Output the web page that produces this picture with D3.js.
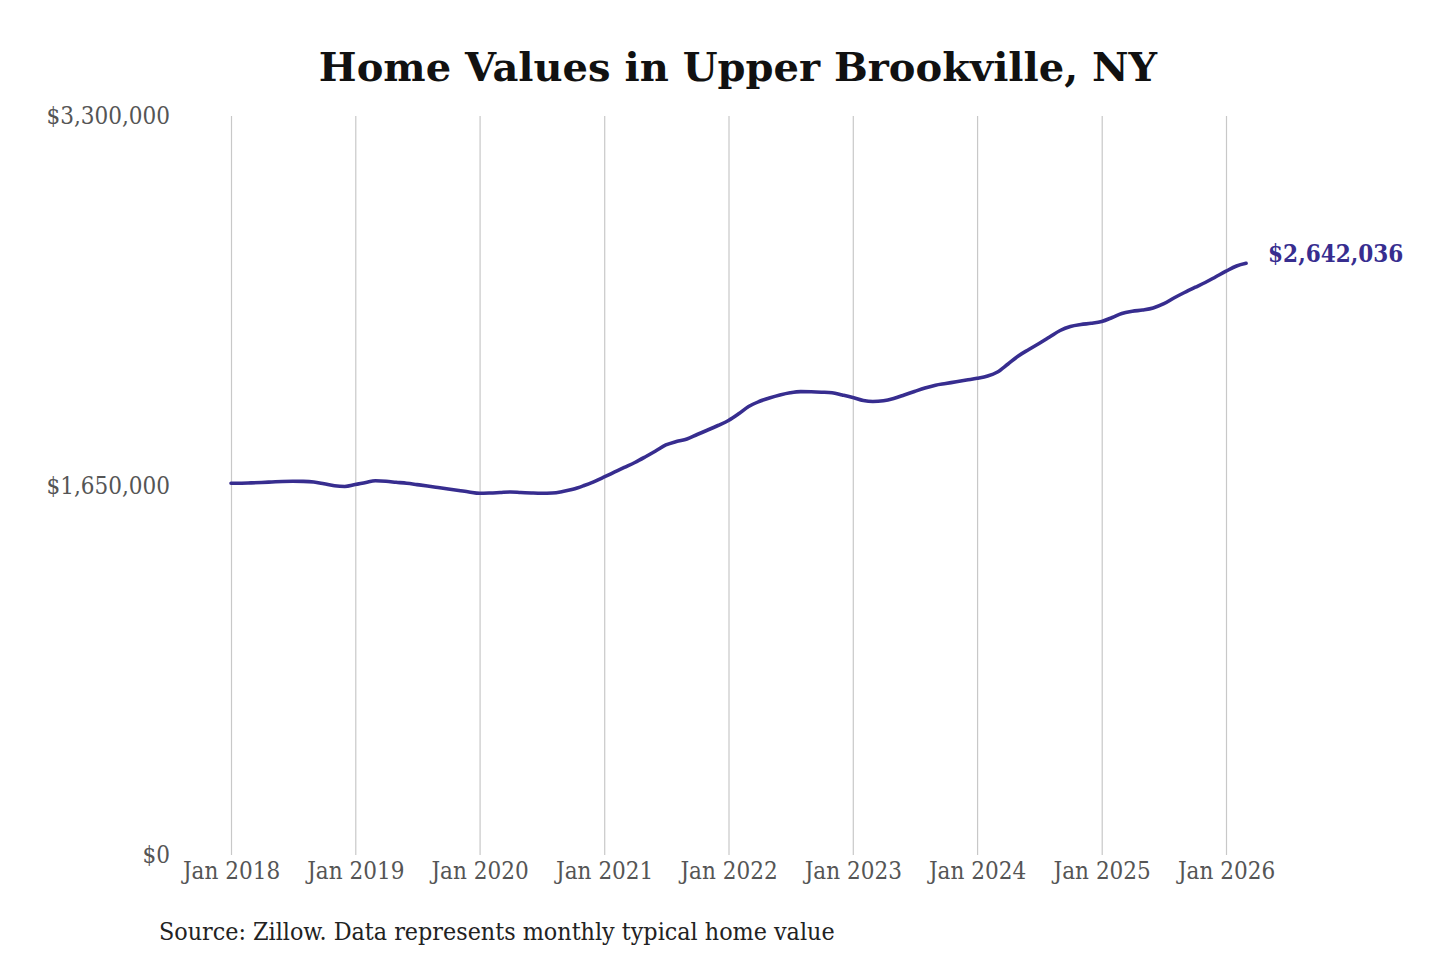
<!DOCTYPE html>
<html>
<head>
<meta charset="utf-8">
<script src="https://cdn.jsdelivr.net/npm/d3@7"></script>
<style>
  html, body { margin: 0; padding: 0; background: #ffffff; }
  svg { display: block; }
</style>
</head>
<body>
<svg id="chart" width="1440" height="960"></svg>
<script>
// ---- Data (monthly typical home value, Jan 2018 .. Mar 2026) ----
const startYear = 2018;
const startMonth = 0; // January
const values = [
  1659800, 1660300, 1661600, 1663400, 1665600, 1667900, 1668800, 1668300, 1665600, 1657600, 1648700, 1645600,
  1654000, 1663400, 1671000, 1668800, 1664300, 1659800, 1654000, 1647800, 1641100, 1634400, 1627700, 1621000,
  1615200, 1616500, 1618700, 1621000, 1618700, 1616500, 1615200, 1616500, 1623200, 1633000, 1648700, 1666500,
  1688000, 1710300, 1730400, 1752700, 1777300, 1804100, 1830900, 1846500, 1857600, 1877700, 1897800, 1917900,
  1940300, 1971500, 2002800, 2025100, 2040700, 2054100, 2064000, 2069300, 2068400, 2066600, 2064000, 2054100,
  2043000, 2029600, 2025100, 2028300, 2038500, 2054100, 2069800, 2085400, 2097900, 2105500, 2113500, 2121100,
  2128700, 2139000, 2156800, 2192600, 2228300, 2257300, 2284100, 2313100, 2342200, 2360000, 2368900, 2374300,
  2382400, 2400200, 2418100, 2427900, 2433700, 2442700, 2460500, 2487300, 2511900, 2534200, 2556500, 2581100,
  2607000, 2630200, 2642036
];
const yTicks = [0, 1650000, 3300000];
const xTickYears = [2018, 2019, 2020, 2021, 2022, 2023, 2024, 2025, 2026];
const title = "Home Values in Upper Brookville, NY";
const source = "Source: Zillow. Data represents monthly typical home value";

const data = values.map((v, i) => ({ date: new Date(startYear, startMonth + i, 1), value: v }));

// ---- Layout ----
const svg = d3.select("#chart");
const mLeft = 231, mRight = 1226, mTop = 116, mBottom = 855;
const lineColor = "#372d8f";
const font = "'DejaVu Serif', serif";

const x = d3.scaleTime()
  .domain([new Date(2018, 0, 1), new Date(2026, 0, 1)])
  .range([mLeft, mRight]);
const y = d3.scaleLinear()
  .domain([0, 3300000])
  .range([mBottom, mTop]);

// Title
svg.append("text")
  .attr("x", 738).attr("y", 81)
  .attr("text-anchor", "middle")
  .attr("font-family", font)
  .attr("font-weight", "bold")
  .attr("font-size", 40)
  .attr("fill", "#111")
  .text(title);

// Vertical gridlines (x axis)
const xAxis = d3.axisBottom(x)
  .tickValues(xTickYears.map(yr => new Date(yr, 0, 1)))
  .tickSize(-(mBottom - mTop))
  .tickPadding(7)
  .tickFormat(d3.timeFormat("Jan %Y"));
const gx = svg.append("g")
  .attr("transform", `translate(0,${mBottom})`)
  .call(xAxis);
gx.select(".domain").remove();
gx.selectAll(".tick line").attr("stroke", "#c8c8c8").attr("stroke-width", 1.2);
gx.selectAll(".tick text")
  .attr("font-family", font)
  .attr("font-stretch", "condensed")
  .attr("font-size", 24)
  .attr("fill", "#555");

// Y axis labels
const yAxis = d3.axisLeft(y)
  .tickValues(yTicks)
  .tickSize(0)
  .tickPadding(61)
  .tickFormat(d => "$" + d3.format(",")(d));
const gy = svg.append("g")
  .attr("transform", `translate(${mLeft},0)`)
  .call(yAxis);
gy.select(".domain").remove();
gy.selectAll(".tick text")
  .attr("font-family", font)
  .attr("font-stretch", "condensed")
  .attr("font-size", 24)
  .attr("fill", "#555");

// Line
const line = d3.line()
  .x(d => x(d.date))
  .y(d => y(d.value))
  .curve(d3.curveMonotoneX);
svg.append("path")
  .datum(data)
  .attr("fill", "none")
  .attr("stroke", lineColor)
  .attr("stroke-width", 3.6)
  .attr("stroke-linejoin", "round")
  .attr("stroke-linecap", "round")
  .attr("d", line);

// End label
const last = data[data.length - 1];
svg.append("text")
  .attr("x", x(last.date) + 22)
  .attr("y", y(last.value) - 1)
  .attr("font-family", font)
  .attr("font-stretch", "condensed")
  .attr("font-weight", "bold")
  .attr("font-size", 24)
  .attr("fill", lineColor)
  .text("$" + d3.format(",")(last.value));

// Source
svg.append("text")
  .attr("x", 159).attr("y", 940)
  .attr("font-family", font)
  .attr("font-stretch", "condensed")
  .attr("font-size", 24.8)
  .attr("fill", "#222")
  .text(source);
</script>
</body>
</html>
